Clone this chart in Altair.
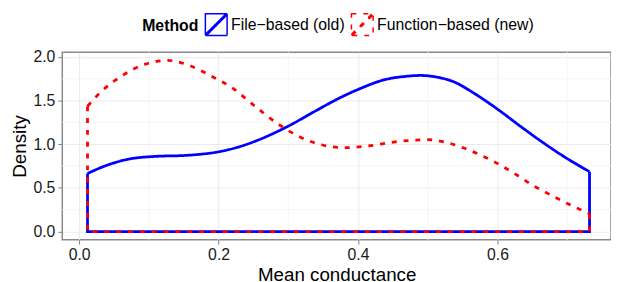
import altair as alt
import pandas as pd

FONT = "Liberation Sans"

methods = ["File\u2212based (old)", "Function\u2212based (new)"]
colors = ["#0000ff", "#ff0000"]

blue_x = [0.012, 0.042, 0.071, 0.113, 0.149, 0.170, 0.198, 0.226, 0.255, 0.297, 0.340,
          0.370, 0.401, 0.439, 0.470, 0.490, 0.515, 0.538, 0.566, 0.602, 0.632, 0.665,
          0.698, 0.732]
blue_y = [0.665, 0.765, 0.829, 0.862, 0.870, 0.882, 0.910, 0.962, 1.042, 1.195, 1.385,
          1.515, 1.630, 1.740, 1.778, 1.787, 1.765, 1.712, 1.585, 1.390, 1.210, 1.020,
          0.845, 0.685]

red_x = [0.012, 0.033, 0.061, 0.094, 0.127, 0.160, 0.189, 0.222, 0.248, 0.288, 0.316,
         0.349, 0.382, 0.415, 0.448, 0.481, 0.500, 0.528, 0.562, 0.595, 0.623, 0.651,
         0.679, 0.712, 0.732]
red_y = [1.435, 1.612, 1.782, 1.914, 1.959, 1.895, 1.782, 1.631, 1.462, 1.217, 1.085,
         0.991, 0.960, 0.980, 1.021, 1.047, 1.052, 1.017, 0.923, 0.800, 0.671, 0.528,
         0.407, 0.276, 0.205]

x_ticks = [0.0, 0.2, 0.4, 0.6]
y_ticks = [0.0, 0.5, 1.0, 1.5, 2.0]
x_minor = [0.1, 0.3, 0.5, 0.7]
y_minor = [0.25, 0.75, 1.25, 1.75]

series = [(methods[0], blue_x, blue_y), (methods[1], red_x, red_y)]

curve_rows = []
outline_rows = []
for m, xs, ys in series:
    for i, (xv, yv) in enumerate(zip(xs, ys)):
        curve_rows.append({"x": xv, "y": yv, "Method": m, "i": i})
    pts = [(xs[0], ys[0]), (xs[0], 0.0), (xs[-1], 0.0), (xs[-1], ys[-1])]
    for i, (xv, yv) in enumerate(pts):
        outline_rows.append({"x": xv, "y": yv, "Method": m, "i": i})

curve_df = pd.DataFrame(curve_rows)
outline_df = pd.DataFrame(outline_rows)

xscale = alt.Scale(domain=[-0.0242, 0.7628], nice=False, zero=False)
yscale = alt.Scale(domain=[-0.094, 2.053], nice=False, zero=False)

color = alt.Color("Method:N", scale=alt.Scale(domain=methods, range=colors),
                  legend=alt.Legend(title="Method"))
dash = alt.StrokeDash("Method:N", scale=alt.Scale(domain=methods, range=[[1, 0], [5, 7]]),
                      legend=alt.Legend(title="Method"))

xaxis = alt.Axis(values=x_ticks, format=".1f", title="Mean conductance")
yaxis = alt.Axis(values=y_ticks, format=".1f", title="Density")

xminor_rules = alt.Chart(pd.DataFrame({"v": x_minor})).mark_rule(
    color="#f5f5f5", strokeWidth=1).encode(x=alt.X("v:Q", scale=xscale, axis=xaxis))
yminor_rules = alt.Chart(pd.DataFrame({"v": y_minor})).mark_rule(
    color="#f5f5f5", strokeWidth=1).encode(y=alt.Y("v:Q", scale=yscale, axis=yaxis))

outline = alt.Chart(outline_df).mark_line(strokeWidth=2.8, strokeCap="butt").encode(
    x=alt.X("x:Q", scale=xscale, axis=xaxis),
    y=alt.Y("y:Q", scale=yscale, axis=yaxis),
    color=color, strokeDash=dash, order="i:Q")

curve = alt.Chart(curve_df).mark_line(strokeWidth=2.8, strokeCap="butt",
                                      interpolate="monotone").encode(
    x=alt.X("x:Q", scale=xscale, axis=xaxis),
    y=alt.Y("y:Q", scale=yscale, axis=yaxis),
    color=color, strokeDash=dash, order="i:Q")

symbol_path = ("M-1,-1H1V1H-1Z M-1,1L1,-1 M-0.9,1L1,-0.9 M-1,0.9L0.9,-1")

chart = alt.layer(xminor_rules, yminor_rules, outline, curve).properties(
    width=556, height=190,
    autosize=alt.AutoSizeParams(type="none"),
    padding={"left": 55, "top": 43, "right": 0, "bottom": 41},
).configure(font=FONT).configure_view(
    stroke="#8a8a8a", strokeWidth=1.5
).configure_axis(
    domain=False, grid=True, gridColor="#ebebeb", gridWidth=1,
    tickColor="#7f7f7f", tickSize=4.5, tickWidth=1,
    labelFont=FONT, labelFontSize=16, labelColor="#1a1a1a", labelPadding=3,
    titleFont=FONT, titleFontSize=19, titleFontWeight="normal", titleColor="#000000",
).configure_axisX(titlePadding=3).configure_axisY(titlePadding=4).configure_legend(
    orient="none", legendX=81, legendY=-40, direction="horizontal",
    titleOrient="left", titleFont=FONT, titleFontSize=16, titleFontWeight="bold",
    titleColor="#000000", titlePadding=6, labelFont=FONT, labelFontSize=16,
    labelColor="#000000", labelOffset=3, columnPadding=3, symbolType=symbol_path,
    symbolSize=484, symbolStrokeWidth=1.5, labelLimit=400, padding=0,
)

chart.save("out.html", embed_options={"renderer": "svg", "actions": False})
